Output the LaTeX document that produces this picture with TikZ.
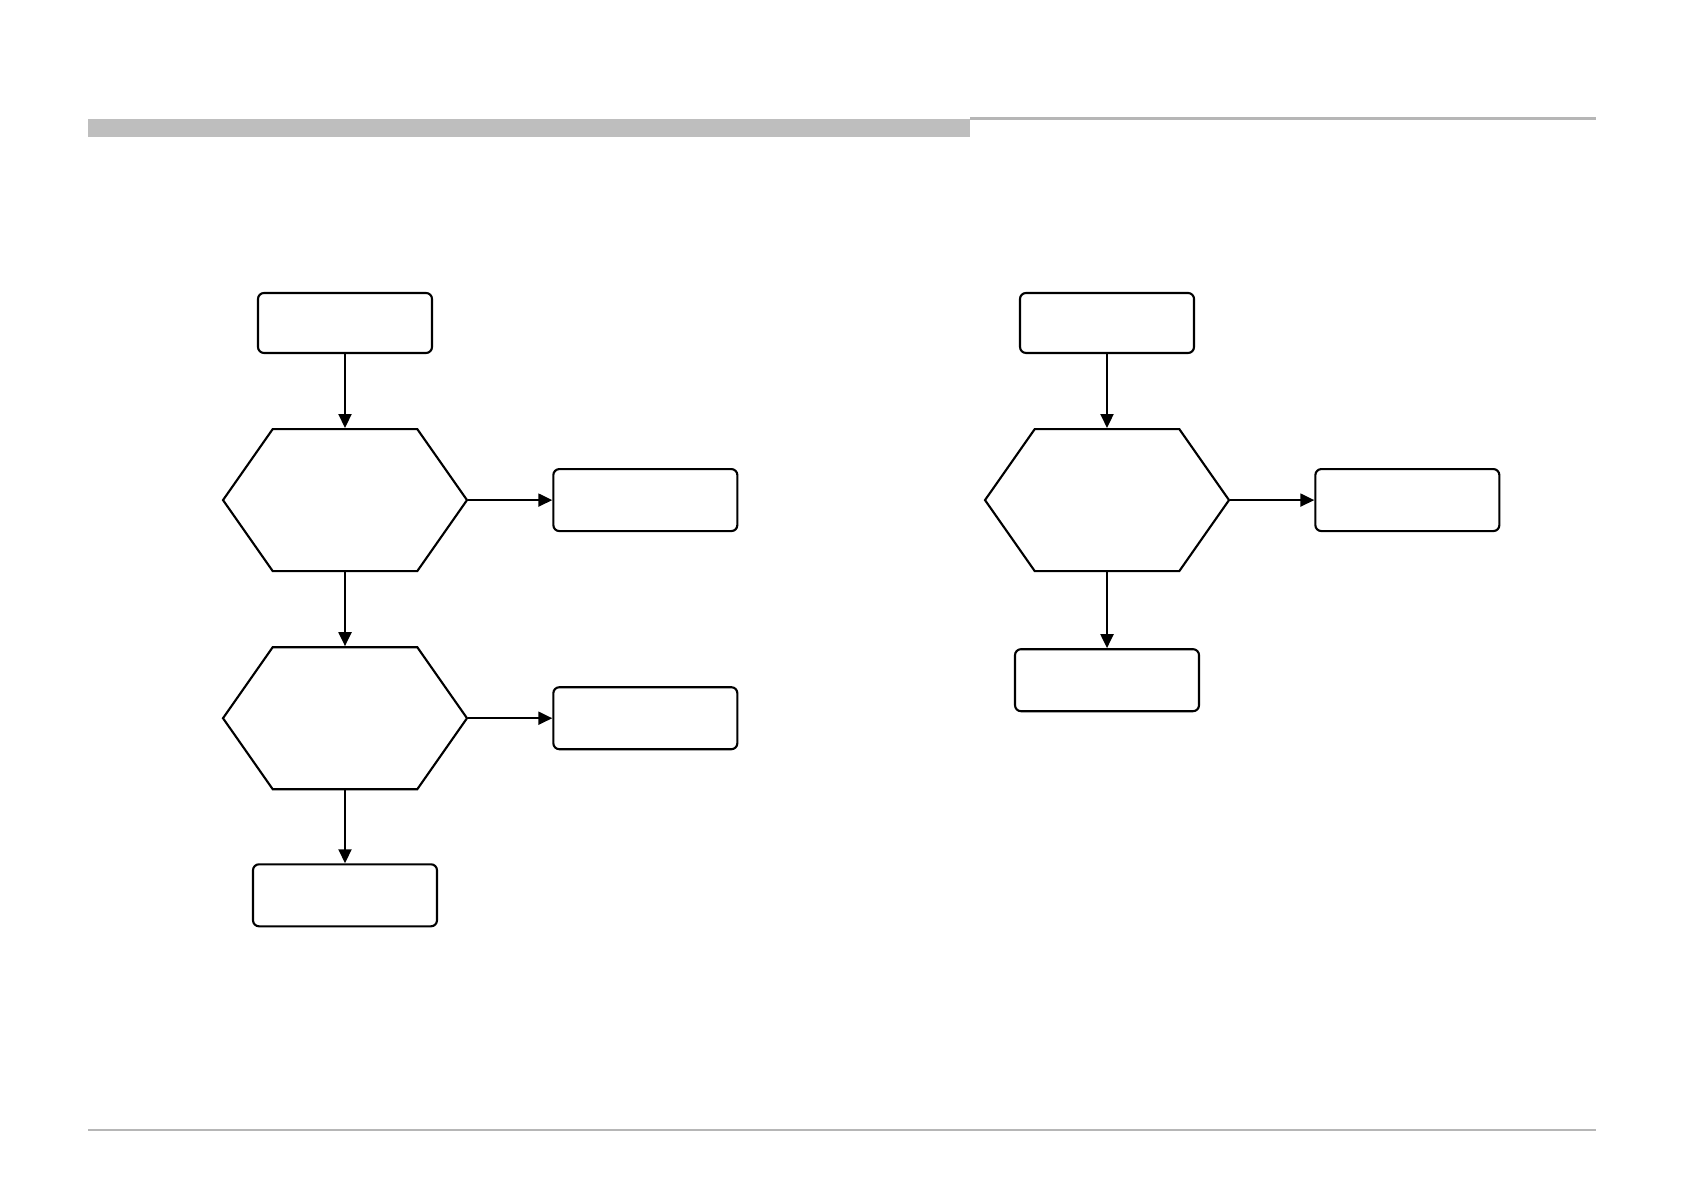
\documentclass[tikz,border=0pt]{standalone}
\usepackage{tikz}
\usetikzlibrary{arrows.meta,positioning,shapes.symbols}
\definecolor{bargray}{RGB}{190,190,190}
\definecolor{rulegray}{RGB}{182,182,182}
\tikzset{
  stepbox/.style={draw, rounded corners=0.06cm, line width=0.6pt,
                  minimum width=1.74cm, minimum height=0.60cm, inner sep=0pt},
  widebox/.style={stepbox, minimum width=1.84cm, minimum height=0.62cm},
  decide/.style={draw, line width=0.6pt, signal, signal to=west and east,
                 signal pointer angle=110, minimum width=2.44cm,
                 minimum height=1.42cm, inner sep=0pt},
  arrow/.style={-{Triangle[length=0.14cm,width=0.13cm]}, line width=0.6pt}
}

\begin{document}
\begin{tikzpicture}[node distance=0.74cm and 0.84cm]
  \useasboundingbox (0,0) rectangle (16.84,11.90);
  % page header and footer rules
  \fill[bargray] (0.88,10.525) rectangle (9.70,10.71);
  \draw[rulegray, line width=0.6pt] (9.70,10.715) -- (15.96,10.715);
  \draw[rulegray, line width=0.6pt] (0.88,0.60) -- (15.96,0.60);

  % left flow
  \node[stepbox] (startL) at (3.45,8.67) {};
  \node[decide, below=of startL] (checkA) {};
  \node[widebox, right=of checkA] (resA) {};
  \node[decide, below=of checkA] (checkB) {};
  \node[widebox, right=of checkB] (resB) {};
  \node[widebox, below=0.73cm of checkB] (endL) {};
  \draw[arrow] (startL)--(checkA);
  \draw[arrow] (checkA)--(resA);
  \draw[arrow] (checkA)--(checkB);
  \draw[arrow] (checkB)--(resB);
  \draw[arrow] (checkB)--(endL);

  % right flow
  \node[stepbox] (startR) at (11.07,8.67) {};
  \node[decide, below=of startR] (checkC) {};
  \node[widebox, right=of checkC] (resC) {};
  \node[widebox, below=0.76cm of checkC] (endR) {};
  \draw[arrow] (startR)--(checkC);
  \draw[arrow] (checkC)--(resC);
  \draw[arrow] (checkC)--(endR);
\end{tikzpicture}
\end{document}
